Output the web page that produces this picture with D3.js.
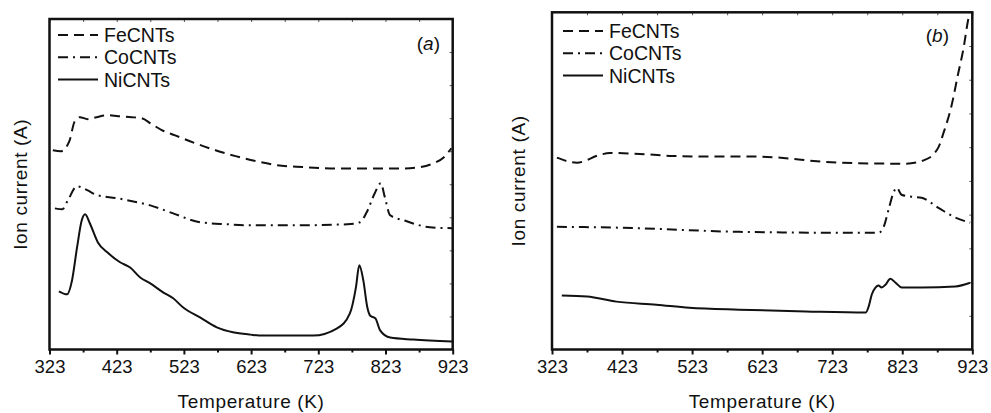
<!DOCTYPE html>
<html>
<head>
<meta charset="utf-8">
<script src="https://cdn.jsdelivr.net/npm/d3@7"></script>
<style>
  html, body { margin: 0; padding: 0; background: #fff; }
  svg { display: block; }
  text { font-family: "Liberation Sans", Arial, Helvetica, sans-serif; fill: #111; }
</style>
</head>
<body>
<svg id="chart" width="991" height="413"></svg>
<script>
// ---- Data (temperature in K, ion current in arbitrary units 0-100) ----
const xTicks = [323, 423, 523, 623, 723, 823, 923];
const xMinorTicks = [373, 473, 573, 673, 773, 873];
const seriesNames = ["FeCNTs", "CoCNTs", "NiCNTs"];

// Panel (a)
const aFeT = [328, 340, 353, 360, 368, 380, 393, 410, 425, 445, 460, 475, 490, 510, 540, 570, 600, 630, 660, 700, 750, 800, 850, 875, 895, 910, 921];
const aFeV = [60.3, 60, 63.3, 68.8, 70.3, 69.7, 70.3, 70.9, 70.6, 70.3, 70, 68.2, 66.4, 64.8, 62.4, 60.3, 58.5, 57, 55.8, 55.2, 54.8, 54.8, 54.8, 55.2, 56.4, 58.2, 60.9];
const aCoT = [331, 342, 350.5, 364, 379, 394, 423, 438, 473, 507, 547, 587, 621, 696, 766, 785, 795, 807, 816, 822, 830, 850, 889, 922];
const aCoV = [42.7, 42.4, 45.2, 49.4, 48.2, 46.7, 45.8, 45.2, 43.6, 41.2, 38.5, 37.9, 37.6, 37.6, 37.9, 38.5, 41.5, 47.3, 50.3, 46.1, 40.6, 39.1, 37, 36.7];
const aNiT = [337, 349, 356.5, 364, 371, 376, 383, 395, 409, 428, 443, 458, 473, 492, 507, 522, 547, 572, 596, 622, 641, 715, 751, 770, 779, 784, 790, 796, 800, 808, 815, 830, 864, 922];
const aNiV = [17.6, 16.7, 20.9, 30.9, 39.1, 40.9, 38.2, 32.4, 29.4, 26.4, 24.8, 21.8, 20, 17.3, 15.5, 12.7, 9.7, 6.7, 5.2, 4.5, 4.2, 4.2, 6.4, 10.9, 18.8, 25.5, 20.9, 12.7, 10.3, 9.4, 5.8, 3.6, 3, 2.4];

// Panel (b)
const bFeT = [330, 358.5, 391, 405.5, 448, 495, 566, 614.5, 732.5, 828, 856, 875, 882, 893, 903, 910, 917, 919];
const bFeV = [56.9, 55.4, 57.7, 58.3, 58, 57.4, 57.2, 57.2, 55.4, 55.1, 56.3, 60.1, 64.3, 72, 82, 88.8, 97.7, 99.8];
const bCoT = [330, 424, 590, 757, 789, 796.5, 803.5, 811, 815, 822, 836, 850.5, 874.7, 898.9, 920];
const bCoV = [36.4, 36.1, 34.9, 34.6, 34.6, 36.4, 41.5, 46.8, 48, 45.9, 45.3, 45, 42, 39.1, 37.6];
const bNiT = [337, 373, 415, 472, 519, 590, 685.6, 771, 775, 779.5, 785, 789, 793.6, 799, 806, 813.5, 822, 850.5, 898.9, 920];
const bNiV = [16, 15.7, 14.2, 13.3, 12.4, 11.8, 11.3, 11, 12.7, 16.3, 18.4, 19, 18.4, 19.2, 21, 19.8, 18.4, 18.4, 18.7, 19.8];

const panelLabels = ["a", "b"];

// ---- Layout ----
const svg = d3.select("#chart");
const dashes = { FeCNTs: "10,6", CoCNTs: "10,5,2,5", NiCNTs: null };

const panels = [
  { label: panelLabels[0], left: 49.5, right: 452.7, top: 19, bottom: 349.5,
    series: [[aFeT, aFeV], [aCoT, aCoV], [aNiT, aNiV]],
    legendX: 58, legendY: 35, labelX: 440, labelY: 50, yTitleX: 27 },
  { label: panelLabels[1], left: 552, right: 972.3, top: 12.3, bottom: 349.5,
    series: [[bFeT, bFeV], [bCoT, bCoV], [bNiT, bNiV]],
    legendX: 563, legendY: 31, labelX: 949, labelY: 42, yTitleX: 525 }
];

panels.forEach(p => {
  const x = d3.scaleLinear().domain([323, 923]).range([p.left, p.right]);
  const y = d3.scaleLinear().domain([0, 100]).range([p.bottom, p.top]);
  const g = svg.append("g");

  // Curves
  const line = d3.line().x(d => x(d[0])).y(d => y(d[1])).curve(d3.curveMonotoneX);
  p.series.forEach((s, i) => {
    const pts = s[0].map((t, k) => [t, s[1][k]]);
    g.append("path").datum(pts)
      .attr("d", line)
      .attr("fill", "none")
      .attr("stroke", "#111")
      .attr("stroke-width", 2)
      .attr("stroke-dasharray", dashes[seriesNames[i]]);
  });

  // Bottom axis (major, outward)
  const bAx = g.append("g").attr("transform", `translate(0,${p.bottom})`)
    .call(d3.axisBottom(x).tickValues(xTicks).tickSize(5).tickPadding(5).tickFormat(d3.format("d")));
  bAx.attr("font-size", null).attr("font-family", null);
  bAx.select(".domain").remove();
  bAx.selectAll("line").attr("stroke", "#111").attr("stroke-width", 2);
  bAx.selectAll("text").attr("fill", "#111").style("font-size", "18.5px");
  const bMin = g.append("g").attr("transform", `translate(0,${p.bottom})`)
    .call(d3.axisBottom(x).tickValues(xMinorTicks).tickSize(3).tickFormat(""));
  bMin.select(".domain").remove();
  bMin.selectAll("line").attr("stroke", "#111").attr("stroke-width", 2);

  // Top axis (inward small ticks)
  const tAx = g.append("g").attr("transform", `translate(0,${p.top})`)
    .call(d3.axisBottom(x).tickValues(xTicks.concat(xMinorTicks)).tickSize(3).tickFormat(""));
  tAx.select(".domain").remove();
  tAx.selectAll("line").attr("stroke", "#555").attr("stroke-width", 1);

  // Right axis (inward small ticks)
  const rAx = g.append("g").attr("transform", `translate(${p.right},0)`)
    .call(d3.axisLeft(y).tickValues(d3.range(10, 100, 10)).tickSize(3).tickFormat(""));
  rAx.select(".domain").remove();
  rAx.selectAll("line").attr("stroke", "#555").attr("stroke-width", 1);

  // Frame
  g.append("rect")
    .attr("x", p.left).attr("y", p.top)
    .attr("width", p.right - p.left).attr("height", p.bottom - p.top)
    .attr("fill", "none").attr("stroke", "#111").attr("stroke-width", 2.5);

  // Axis titles
  g.append("text")
    .attr("x", (p.left + p.right) / 2).attr("y", 408)
    .attr("text-anchor", "middle").style("font-size", "19px")
    .attr("letter-spacing", 0.65)
    .text("Temperature (K)");
  g.append("text")
    .attr("transform", `translate(${p.yTitleX},${(p.top + p.bottom) / 2}) rotate(-90)`)
    .attr("text-anchor", "middle").style("font-size", "19px")
    .attr("letter-spacing", 0.65)
    .text("Ion current (A)");

  // Panel label
  const lab = g.append("text").attr("x", p.labelX).attr("y", p.labelY)
    .attr("text-anchor", "end").style("font-size", "19px");
  lab.append("tspan").text("(");
  lab.append("tspan").attr("font-style", "italic").text(p.label);
  lab.append("tspan").text(")");

  // Legend
  seriesNames.forEach((name, i) => {
    const ly = p.legendY + i * 22.3;
    g.append("line")
      .attr("x1", p.legendX).attr("x2", p.legendX + 40)
      .attr("y1", ly).attr("y2", ly)
      .attr("stroke", "#111").attr("stroke-width", 2)
      .attr("stroke-dasharray", dashes[name]);
    g.append("text")
      .attr("x", p.legendX + 46).attr("y", ly + 7)
      .style("font-size", "19.5px")
      .text(name);
  });
});
</script>
</body>
</html>
